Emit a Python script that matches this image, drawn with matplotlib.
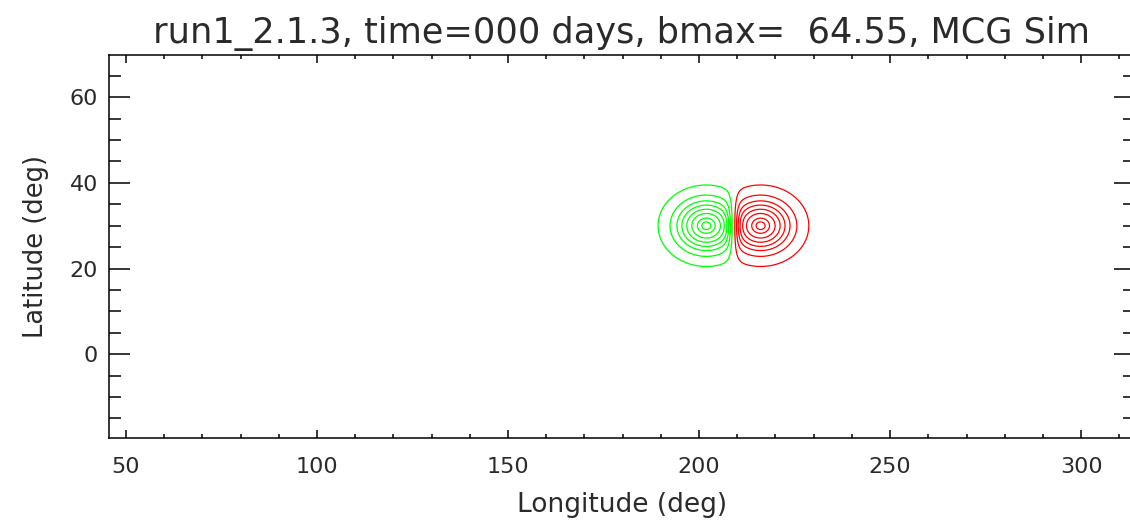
import numpy as np
import matplotlib
matplotlib.use("Agg")
import matplotlib.pyplot as plt

# --- DATA ---
run_name = "run1_2.1.3"
day = 0
bmax = 64.55

# bipole: polarity inversion line, pole offset and spot widths (deg)
lon_pil = 209.0
lat0 = 30.0
pole_offset = 7.1
pil_width = 1.3
width_lon = 6.5
width_lat = 4.9

# contour levels (gauss), same magnitudes for both polarities
levels = [9.8, 22.2, 32.0, 39.8, 47.4, 54.4, 60.5, 63.5]

lon_lim = (45.55, 314.1)
lat_lim = (-19.5, 69.8)
xticks = [50, 100, 150, 200, 250, 300]
yticks = [0, 20, 40, 60]

# --- FIELD ---
lon = np.arange(150.0, 260.0, 0.05)
lat = np.arange(0.0, 60.0, 0.05)
LON, LAT = np.meshgrid(lon, lat)

dx = LON - lon_pil
B = bmax * np.tanh(dx / pil_width) * np.exp(-((np.abs(dx) - pole_offset) ** 2) / (2 * width_lon ** 2)
                                            - ((LAT - lat0) ** 2) / (2 * width_lat ** 2))

# --- FIGURE ---
fig = plt.figure(figsize=(11.30, 5.22), dpi=100)
ax = fig.add_axes([109 / 1130, 1 - 437.7 / 522, 1026 / 1130, 382.4 / 522])

ax.contour(LON, LAT, B, levels=levels, colors="#ff0000", linewidths=0.9, linestyles="solid")
ax.contour(LON, LAT, -B, levels=levels, colors="#00ff00", linewidths=0.9, linestyles="solid")

ax.set_xlim(*lon_lim)
ax.set_ylim(*lat_lim)
ax.set_xticks(xticks)
ax.set_yticks(yticks)
ax.set_xticks(np.arange(50, 311, 10), minor=True)
ax.set_yticks(np.arange(-15, 70, 5), minor=True)

txt = "#2a2a2a"
ax.tick_params(which="both", direction="in", top=True, right=True, colors="black",
               labelcolor=txt, labelsize=16, width=1.1)
ax.xaxis.set_tick_params(which="major", length=5.8, pad=14)
ax.xaxis.set_tick_params(which="minor", length=2.9)
ax.yaxis.set_tick_params(which="major", length=15, pad=8)
ax.yaxis.set_tick_params(which="minor", length=8.4)
for s in ax.spines.values():
    s.set_linewidth(1.1)

ax.set_xlabel("Longitude (deg)", fontsize=19, color=txt, labelpad=11)
ax.set_ylabel("Latitude (deg)", fontsize=18.5, color=txt, labelpad=15)
ax.set_title(f"{run_name}, time={day:03d} days, bmax=  {bmax:.2f}, MCG Sim",
             fontsize=25.3, color=txt, pad=9)

fig.savefig("out.png", dpi=100)
